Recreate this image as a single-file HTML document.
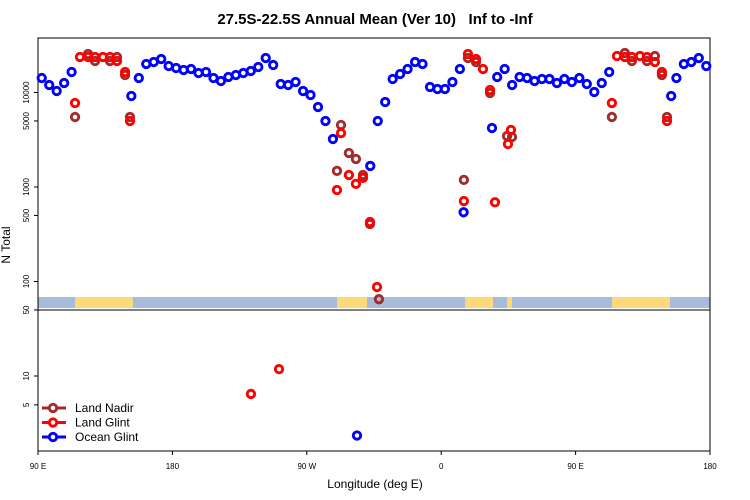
<!DOCTYPE html>
<html><head><meta charset="utf-8"><style>
html,body{margin:0;padding:0;background:#fff;}
svg{display:block;font-family:"Liberation Sans",Arial,sans-serif;}
</style></head><body>
<svg id="chart" width="750" height="500" viewBox="0 0 750 500" xmlns="http://www.w3.org/2000/svg">
<text x="375" y="24" text-anchor="middle" font-size="15" font-weight="bold" style="white-space:pre" xml:space="preserve">27.5S-22.5S Annual Mean (Ver 10)   Inf to -Inf</text>
<text x="0" y="0" transform="translate(10,245) rotate(-90)" text-anchor="middle" font-size="12">N Total</text>
<text x="375" y="488" text-anchor="middle" font-size="12">Longitude (deg E)</text>
<g id="strip"></g>
<g id="axes"></g>
<g id="marks"></g>
<g id="legend"></g>
</svg>
<script>
const blueLon=[92.5,97.5,102.5,107.5,112.5,152.5,157.5,162.5,167.5,172.5,177.5,182.5,187.5,192.5,197.5,202.5,207.5,212.5,217.5,222.5,227.5,232.5,237.5,242.5,247.5,252.5,257.5,262.5,267.5,272.5,277.5,282.5,287.5,312.5,317.5,322.5,327.5,332.5,337.5,342.5,347.5,352.5,357.5,362.5,367.5,372.5,375,394,397.5,402.5,407.5,412.5,417.5,422.5,427.5,432.5,437.5,442.5,447.5,452.5,457.5,462.5,467.5,472.5,514,517.5,522.5,527.5,532.5,537.5,303.6];
const blueVal=[14240,12000,10370,12610,16480,9180,14240,20040,21030,22620,19070,18160,17300,17730,16080,16480,14240,13240,14590,15310,16080,16890,18620,23190,19540,12300,12000,12910,10370,9410,7030,4990,3220,1670,4990,7930,13890,15700,17730,21030,20040,11430,10890,10890,12910,17730,540,4210,14590,17730,12000,14590,14240,13240,13890,13890,12610,13890,12910,14240,12300,10120,12610,16480,9180,14240,20040,21030,23190,19070,2.4];
const redLon=[114.8,118.1,123.5,128.2,133.5,138.2,142.9,148.3,151.6,292.9,290.2,298.2,302.9,307.6,312.3,317.0,377.9,383.3,388.0,392.7,406.7,404.7,375.2,396.0,474.3,477.7,483.0,487.7,493.1,497.8,503.1,507.8,511.2,232.6,251.4];
const redVal=[7740,23770,23770,23770,23770,23770,21550,16480,4990,3720,930,1340,1080,1250,426,87.5,25550,22620,17730,10620,4010,2850,710,690,7740,24330,23770,23770,24330,23770,21030,16480,4990,6.5,11.8];
const nadirLon=[114.8,123.5,128.2,138.2,142.9,148.3,151.6,292.9,298.2,302.9,290.2,307.6,312.3,318.3,377.9,383.3,392.7,404.1,407.4,375.2,474.3,483.0,487.7,497.8,503.1,507.8,511.2];
const nadirVal=[5500,25550,21550,21550,23770,15310,5500,4530,2290,1980,1480,1340,406,65,23190,21030,9880,3460,3380,1190,5500,26180,21550,21550,24330,15310,5500];
const landStart=[114.8,290.2,375.9,404.1,474.3];
const landEnd=[153.6,310.3,394.7,407.4,513.2];
const topTicks=[10000,5000,1000,500,100,50];
const botTicks=[10,5];
const xTickLon=[90,180,270,360,450,540];
const xTickLab=["90 E","180","90 W","0","90 E","180"];

const NS="http://www.w3.org/2000/svg";
const L=38,R=710,T=38,MID=310,B=451;
function xs(lon){return L+(lon-90)*(R-L)/450;}
function yTop(v){return 281.5-(Math.log10(v)-2)*94.5;}
function yBot(v){return 376-(Math.log10(v)-1)*96;}
function yAny(v){return v>=50?yTop(v):yBot(v);}
function mk(tag,attrs,parent){const e=document.createElementNS(NS,tag);for(const k in attrs)e.setAttribute(k,attrs[k]);parent.appendChild(e);return e;}

const strip=document.getElementById('strip');
const sb=mk('rect',{x:L,y:297,width:R-L,height:11,fill:'#a7bcda'},strip);


for(let i=0;i<landStart.length;i++){
  const r=mk('rect',{x:xs(landStart[i]),y:297,width:xs(landEnd[i])-xs(landStart[i]),height:11,fill:'#fcd97a'},strip);
  
  
}

const ax=document.getElementById('axes');
const f=mk('rect',{x:L,y:T,width:R-L,height:B-T,fill:'none',stroke:'#000','stroke-width':1},ax);


const md=mk('line',{x1:L,x2:R,y1:MID,y2:MID,stroke:'#000','stroke-width':1},ax);


function ytick(y,lab){
  const t=mk('line',{x1:L-4,x2:L,y1:y,y2:y,stroke:'#000'},ax);
  
  
  const tx=mk('text',{x:0,y:0,transform:`translate(29,${y}) rotate(-90)`,'text-anchor':'middle','font-size':8},ax);
  tx.textContent=lab;
  
  
}
topTicks.forEach(v=>ytick(yTop(v),String(v)));
botTicks.forEach(v=>ytick(yBot(v),String(v)));
xTickLon.forEach((lon,i)=>{
  const x=xs(lon);
  const t=mk('line',{x1:x,x2:x,y1:B,y2:B+4,stroke:'#000'},ax);
  
  
  const tx=mk('text',{x:x,y:469,'text-anchor':'middle','font-size':8},ax);
  tx.textContent=xTickLab[i];
  
  
});

const marks=document.getElementById('marks');
function series(lons,vals,color,name){
  const g=mk('g',{},marks);
  
  
  lons.forEach((lon,i)=>{
    const c=mk('circle',{cx:xs(lon),cy:yAny(vals[i]),r:3.7,fill:'none',stroke:color,'stroke-width':2.9},g);
    
    
  });
}
series(nadirLon,nadirVal,'#a52a2a','land-nadir');
series(redLon,redVal,'#ff0000','land-glint');
series(blueLon,blueVal,'#0000ff','ocean-glint');

const lg=document.getElementById('legend');
[['Land Nadir','#a52a2a',408],['Land Glint','#ff0000',422.5],['Ocean Glint','#0000ff',437]].forEach(([lab,col,y])=>{
  const g=mk('g',{},lg);
  
  
  mk('line',{x1:42,x2:66,y1:y,y2:y,stroke:col,'stroke-width':2.9},g);
  mk('circle',{cx:53,cy:y,r:3.7,fill:'#fff',stroke:col,'stroke-width':2.9},g);
  const t=mk('text',{x:75,y:y+4,'font-size':12},g);
  t.textContent=lab;
});
</script>
</body></html>
